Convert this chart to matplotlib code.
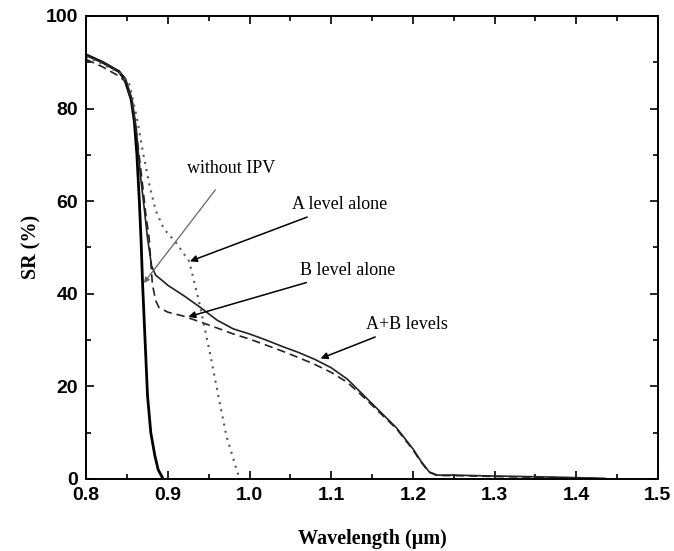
import matplotlib.pyplot as plt
from matplotlib.ticker import MultipleLocator

# data
wl_no_ipv = [0.80, 0.82, 0.84, 0.847, 0.855, 0.859, 0.862, 0.865, 0.867, 0.869,
             0.872, 0.875, 0.879, 0.884, 0.888, 0.894]
sr_no_ipv = [91.6, 90.0, 88.0, 86.3, 82.0, 77.0, 70.0, 60.0, 52.0, 42.0,
             30.0, 18.0, 10.0, 5.0, 2.0, 0.0]

wl_ab = [0.80, 0.82, 0.84, 0.848, 0.856, 0.861, 0.866, 0.870, 0.875, 0.880,
         0.885, 0.892, 0.90, 0.92, 0.94, 0.96, 0.98, 1.00, 1.02, 1.04, 1.06,
         1.08, 1.10, 1.12, 1.14, 1.16, 1.18, 1.20, 1.21, 1.22, 1.23, 1.25,
         1.30, 1.35, 1.40, 1.435]
sr_ab = [91.6, 90.0, 88.0, 86.5, 82.0, 76.0, 66.0, 60.0, 52.0, 46.0,
         44.0, 43.0, 41.8, 39.5, 37.0, 34.3, 32.4, 31.3, 30.0, 28.6, 27.3,
         25.8, 24.0, 21.5, 18.0, 14.5, 11.0, 6.5, 3.8, 1.5, 0.8, 0.8,
         0.6, 0.45, 0.25, 0.1]

wl_b = [0.80, 0.82, 0.84, 0.848, 0.856, 0.862, 0.868, 0.873, 0.877, 0.881,
        0.885, 0.889, 0.90, 0.918, 0.938, 0.96, 0.98, 1.00, 1.02, 1.04, 1.06,
        1.08, 1.10, 1.12, 1.14, 1.16, 1.18, 1.20, 1.21, 1.22, 1.23, 1.25,
        1.30, 1.35, 1.40, 1.43]
sr_b = [90.6, 89.0, 87.0, 85.8, 81.0, 74.0, 65.0, 57.0, 52.0, 42.0,
        38.5, 37.0, 36.0, 35.2, 34.0, 32.6, 31.3, 30.2, 28.9, 27.6, 26.2,
        24.7, 23.0, 20.8, 17.6, 14.2, 10.8, 6.3, 3.6, 1.4, 0.7, 0.7,
        0.5, 0.35, 0.2, 0.05]

wl_a = [0.80, 0.82, 0.84, 0.853, 0.862, 0.870, 0.878, 0.885, 0.895, 0.91,
        0.926, 0.938, 0.951, 0.963, 0.972, 0.979, 0.984, 0.988]
sr_a = [91.2, 89.6, 87.8, 85.2, 78.0, 70.0, 63.0, 58.0, 54.0, 51.0,
        47.0, 38.4, 27.6, 16.8, 9.0, 5.0, 2.0, 0.0]

xticks = [0.8, 0.9, 1.0, 1.1, 1.2, 1.3, 1.4, 1.5]
yticks = [0, 20, 40, 60, 80, 100]

serif = ["Liberation Serif", "DejaVu Serif"]
sans = ["Liberation Sans", "DejaVu Sans"]

fig = plt.figure(figsize=(6.74, 5.51), dpi=100)
ax = fig.add_axes([0.128, 0.131, 0.848, 0.840])

ax.plot(wl_no_ipv, sr_no_ipv, color="black", lw=2.0)
ax.plot(wl_ab, sr_ab, color="#222222", lw=1.2)
ax.plot(wl_b, sr_b, color="#222222", lw=1.2, ls=(0, (5, 3)))
ax.plot(wl_a, sr_a, color="#555555", lw=1.5, ls=(0, (1, 2.5)))

ax.set_xlim(0.8, 1.5)
ax.set_ylim(0, 100)
ax.set_xticks(xticks)
ax.set_yticks(yticks)
ax.set_xticklabels([f"{t:.1f}" for t in xticks])
ax.xaxis.set_minor_locator(MultipleLocator(0.05))
ax.yaxis.set_minor_locator(MultipleLocator(10))
ax.tick_params(which="both", direction="in", top=True, right=True, width=1.2)
ax.tick_params(which="major", length=6, pad=6)
ax.tick_params(which="minor", length=3.5)
for lab in ax.get_xticklabels() + ax.get_yticklabels():
    lab.set_fontfamily(sans)
    lab.set_fontweight("bold")
    lab.set_fontsize(14)
for sp in ax.spines.values():
    sp.set_linewidth(1.4)

ax.set_xlabel("Wavelength (\u03bcm)", family=serif, fontweight="bold", fontsize=14.5, labelpad=18)
ax.set_ylabel("SR (%)", family=serif, fontweight="bold", fontsize=14.5, labelpad=3)

arrow = dict(arrowstyle="-|>", color="black", lw=1.1, mutation_scale=10, shrinkA=0, shrinkB=0)
ax.annotate("without IPV", xy=(0.8705, 42.3), xytext=(0.978, 67),
            ha="center", va="center", family=serif, fontsize=13,
            arrowprops=dict(arrowstyle="-|>", color="#666666", lw=0.9, mutation_scale=8,
                            shrinkA=9, shrinkB=0))
ax.annotate("A level alone", xy=(0.927, 47), xytext=(1.052, 59.2),
            ha="left", va="center", family=serif, fontsize=13,
            arrowprops=dict(arrow, shrinkA=2))
ax.annotate("B level alone", xy=(0.925, 35), xytext=(1.062, 45),
            ha="left", va="center", family=serif, fontsize=13,
            arrowprops=dict(arrow, shrinkA=2))
ax.annotate("A+B levels", xy=(1.087, 26), xytext=(1.142, 33.3),
            ha="left", va="center", family=serif, fontsize=13,
            arrowprops=dict(arrow, shrinkA=2))

fig.savefig("out.png", dpi=100)
